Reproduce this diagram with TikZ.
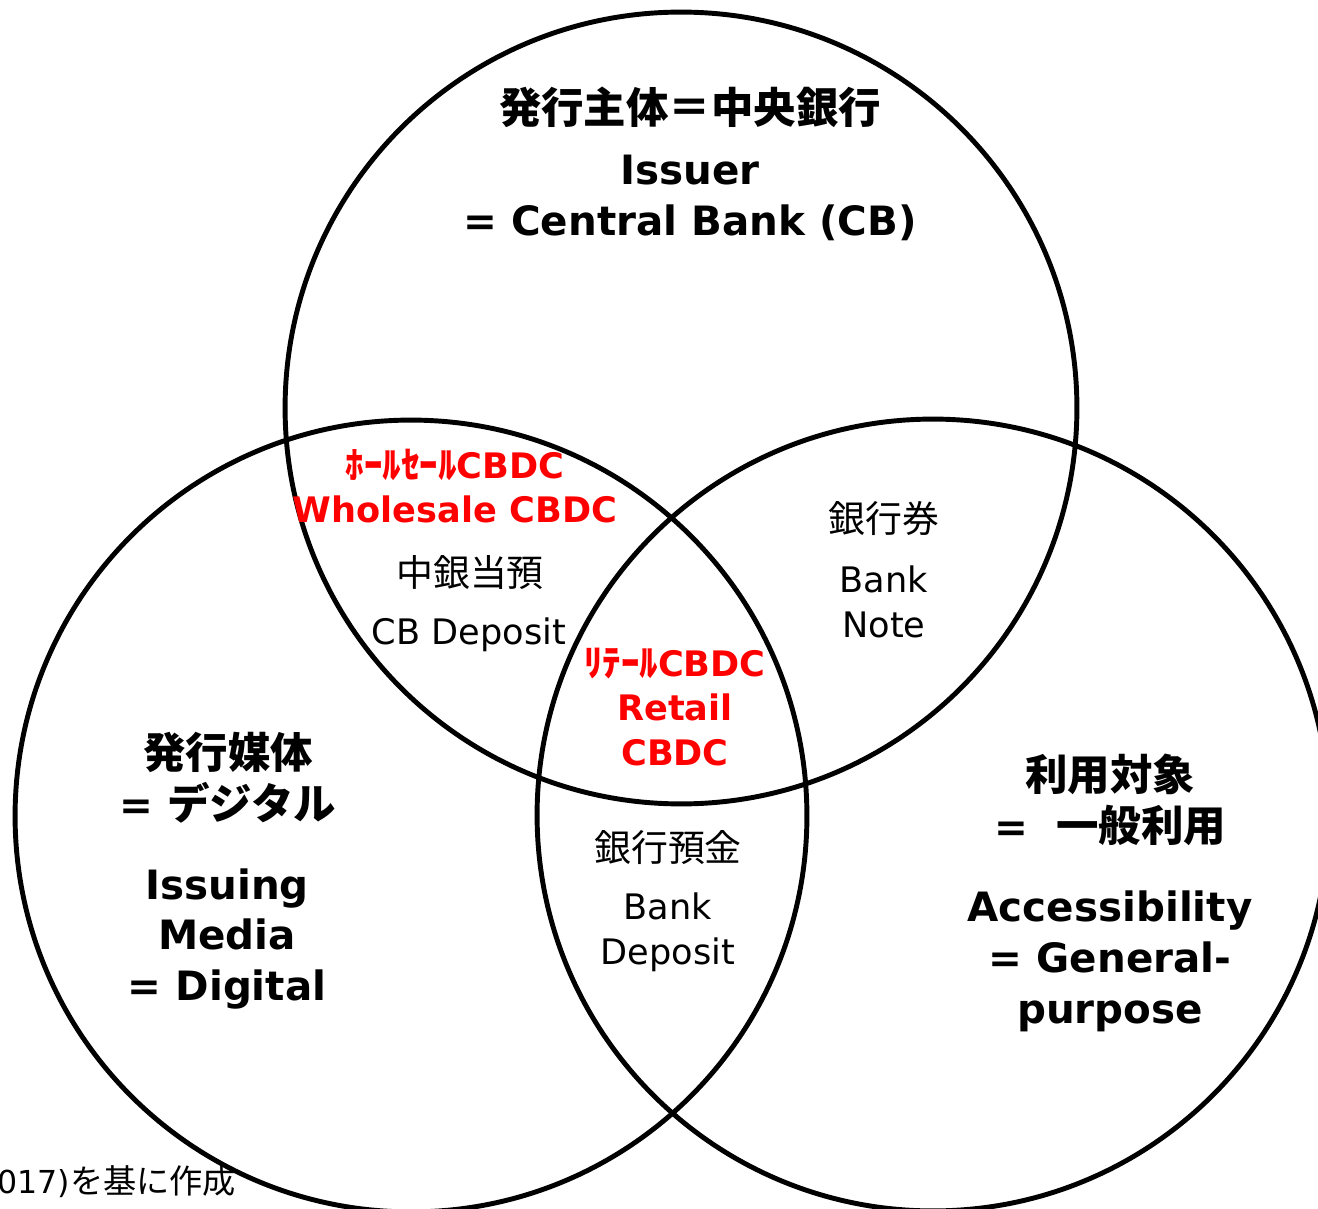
\documentclass[tikz,border=0pt]{standalone}
\usepackage{fontspec}
\setmainfont{DejaVu Sans}
\newfontfamily\jp[Scale=1.05]{Noto Sans CJK JP}

\begin{document}
\begin{tikzpicture}[x=0.02cm,y=-0.02cm]

\tikzset{
  bigtxt/.style={font=\fontsize{23}{29}\selectfont\bfseries, align=center},
  redtxt/.style={font=\fontsize{20}{25.5}\selectfont\bfseries, text=red, align=center},
  smalltxt/.style={font=\fontsize{20}{25.5}\selectfont, align=center},
  ring/.style={line width=2.8pt}
}

\clip (0,0) rectangle (1318,1209);

\draw [ring] (681,408) circle [radius=7.92cm];
\draw [ring] (411,816) circle [radius=7.92cm];
\draw [ring] (933,815) circle [radius=7.92cm];

\node [bigtxt] (issuerjp) at (690,107) {\jp 発行主体＝中央銀行};
\node [bigtxt] (issuer) at (690,198) {Issuer\\= Central Bank (CB)};

\node [redtxt] (wholesale) at (455,486) {{\jp ﾎｰﾙｾｰﾙ}CBDC\\Wholesale CBDC};
\node [smalltxt] (cbdepjp) at (470,573) {\jp 中銀当預};
\node [smalltxt] (cbdep) at (469,635) {CB Deposit};

\node [smalltxt] (notejp) at (884,518) {\jp 銀行券};
\node [smalltxt] (note) at (884,602) {Bank\\Note};

\node [redtxt] (retail) at (675,707) {{\jp ﾘﾃｰﾙ}CBDC\\Retail\\CBDC};

\node [bigtxt] (mediajp) at (228,778) {{\jp 発行媒体}\\= {\jp デジタル}};
\node [bigtxt] (media) at (227,939) {Issuing\\Media\\= Digital};

\node [smalltxt] (bankdepjp) at (668,848) {\jp 銀行預金};
\node [smalltxt] (bankdep) at (668,932) {Bank\\Deposit};

\node [bigtxt] (accessjp) at (1110,800) {{\jp 利用対象}\\= \ {\jp 一般利用}};
\node [bigtxt] (access) at (1110,961) {Accessibility\\= General-\\purpose};

\node [anchor=west, inner sep=0pt, font=\fontsize{18}{20}\selectfont] (source) at (-3,1182) {017){\jp を基に作成}};

\end{tikzpicture}
\end{document}
